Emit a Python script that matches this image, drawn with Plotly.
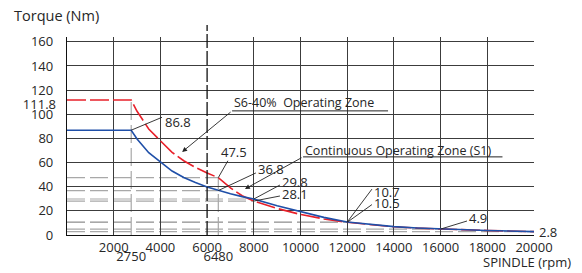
import plotly.graph_objects as go

# ---------------- data ----------------
speed_s6 = [0, 2750, 3000, 3500, 4000, 4500, 5000, 5500, 6000, 6480, 7000, 7500, 8000,
            9000, 10000, 11000, 12000, 13000, 14000, 15000, 16000, 18000, 20000]
torque_s6 = [111.8, 111.8, 102.5, 87.8, 78.0, 68.5, 61.5, 56.0, 51.3, 47.5, 39.0, 32.5, 28.1,
             22.0, 17.0, 13.3, 10.5, 8.4, 6.8, 5.7, 4.9, 3.7, 2.8]
speed_s1 = [0, 2750, 3000, 3500, 4000, 4500, 5000, 5500, 6000, 6480, 7000, 7500, 8000,
            9000, 10000, 11000, 12000, 13000, 14000, 15000, 16000, 18000, 20000]
torque_s1 = [86.8, 86.8, 79.6, 68.2, 60.5, 53.0, 47.7, 43.4, 39.8, 36.8, 34.1, 31.8, 29.8,
             24.2, 19.3, 14.6, 10.7, 8.6, 6.9, 5.8, 4.9, 3.7, 2.8]

x_ticks = [2000, 4000, 6000, 8000, 10000, 12000, 14000, 16000, 18000, 20000]
x_grid = [2000, 4000, 8000, 10000, 12000, 14000, 16000, 18000, 20000]
x_extra_ticks = [2750, 6480]
y_ticks = [0, 20, 40, 60, 80, 100, 120, 140, 160]
y_extra_ticks = [111.8]

guide_h_levels = [47.5, 36.8, 29.8, 28.1, 10.7, 10.5, 4.9, 2.8]
guide_h_ends = [6480, 6480, 8000, 8000, 12000, 12000, 16000, 20000]
guide_v_speeds = [2750, 6480]
guide_v_tops = [111.8, 47.5]
divider_speed = 6000

# value labels: (text, point x, point y, text-left x, text-center y, leader-start x, leader-start y)
value_labels = [
    ("86.8", 2750, 86.8, 4110, 93.7, 4070, 97.5),
    ("47.5", 6480, 47.5, 6500, 68.8, 6890, 61.5),
    ("36.8", 6480, 36.8, 8090, 54.7, 8090, 51.4),
    ("29.8", 8000, 29.8, 9120, 43.9, 9120, 41.4),
    ("28.1", 8000, 28.1, 9120, 34.0, 9120, 32.3),
    ("10.7", 12000, 10.7, 13060, 35.6, 13060, 38.0),
    ("10.5", 12000, 10.5, 13060, 26.5, 13060, 25.2),
    ("4.9", 16000, 4.9, 17130, 14.1, 17130, 11.6),
]
end_label = ("2.8", 20000, 2.8)

# zone labels: (text, text-left x, text center y, underline y, underline end x, arrow tip x, arrow tip y)
zone_labels = [
    ("S6-40%  Operating Zone", 7070, 109.4, 102.8, 13750, 4930, 68.8),
    ("Continuous Operating Zone (S1)", 10110, 69.6, 64.7, 18650, 7620, 38.1),
]

FONT = "Open Sans, Noto Sans, sans-serif"
TXT = "#262626"
GRID = "#3c3c3c"
GUIDE = "#a8a8a8"
XR = [0, 20000]
YR = [0, 164]

fig = go.Figure()

fig.add_trace(go.Scatter(x=speed_s6, y=torque_s6, mode="lines",
                         line=dict(color="#e8202a", width=1.6, dash="19px,4px"),
                         showlegend=False, hoverinfo="skip"))
fig.add_trace(go.Scatter(x=speed_s1, y=torque_s1, mode="lines",
                         line=dict(color="#1f4fa8", width=1.6),
                         showlegend=False, hoverinfo="skip"))
# placeholder traces for overlay axes
fig.add_trace(go.Scatter(x=[None], y=[None], xaxis="x2", yaxis="y", showlegend=False))
fig.add_trace(go.Scatter(x=[None], y=[None], xaxis="x3", yaxis="y", showlegend=False))
fig.add_trace(go.Scatter(x=[None], y=[None], xaxis="x", yaxis="y2", showlegend=False))

shapes = []
for lvl, end in zip(guide_h_levels, guide_h_ends):
    shapes.append(dict(type="line", xref="x", yref="y", x0=0, x1=end, y0=lvl, y1=lvl,
                       line=dict(color=GUIDE, width=1.2, dash="18px,5px"), layer="below"))
for sp, top in zip(guide_v_speeds, guide_v_tops):
    shapes.append(dict(type="line", xref="x", yref="y", x0=sp, x1=sp, y0=0, y1=top,
                       line=dict(color=GUIDE, width=1.2, dash="18px,5px"), layer="below"))
shapes.append(dict(type="line", xref="x", yref="paper", x0=divider_speed, x1=divider_speed,
                   y0=0, y1=1.06, line=dict(color="#111111", width=1.3, dash="14px,3px")))

annotations = []
for text, px, py, tx, ty, lx, ly in value_labels:
    shapes.append(dict(type="line", xref="x", yref="y", x0=px, y0=py, x1=lx, y1=ly,
                       line=dict(color="#222222", width=0.9)))
    annotations.append(dict(text=text, x=tx, y=ty, xref="x", yref="y", xanchor="left",
                            yanchor="middle", showarrow=False,
                            font=dict(family=FONT, size=13, color=TXT)))
annotations.append(dict(text=end_label[0], x=end_label[1], y=end_label[2], xref="x", yref="y",
                        xanchor="left", yanchor="middle", xshift=3, showarrow=False,
                        font=dict(family=FONT, size=13, color=TXT)))

for text, tx, ty, uy, ux, ax_tip, ay_tip in zone_labels:
    annotations.append(dict(text=text, x=tx, y=ty, xref="x", yref="y", xanchor="left",
                            yanchor="middle", showarrow=False,
                            font=dict(family=FONT, size=12.5, color=TXT)))
    shapes.append(dict(type="line", xref="x", yref="y", x0=tx, x1=ux, y0=uy, y1=uy,
                       line=dict(color="#222222", width=1)))
    annotations.append(dict(text="", x=ax_tip, y=ay_tip, xref="x", yref="y",
                            ax=tx, ay=uy, axref="x", ayref="y", showarrow=True,
                            arrowhead=2, arrowsize=1.1, arrowwidth=0.9, arrowcolor="#222222",
                            standoff=0, startstandoff=0))

annotations.append(dict(text="Torque (Nm)", x=-0.118, y=1.111, xref="paper", yref="paper",
                        xanchor="left", yanchor="middle", showarrow=False,
                        font=dict(family=FONT, size=14.5, color=TXT)))
annotations.append(dict(text="SPINDLE (rpm)", x=1.0835, y=-0.136, xref="paper", yref="paper",
                        xanchor="right", yanchor="middle", showarrow=False,
                        font=dict(family=FONT, size=13, color=TXT)))

tickfont = dict(family=FONT, size=13, color=TXT)

# page body has an 8px margin, so the figure is sized to fill the rest of the window
fig.update_layout(
    width=574, height=265,
    margin=dict(l=59, r=48, t=29, b=38, autoexpand=False),
    paper_bgcolor="white", plot_bgcolor="white",
    xaxis=dict(range=XR, tickmode="array", tickvals=x_ticks, ticktext=[str(v) for v in x_ticks],
               showgrid=False, zeroline=False, showline=True, linecolor="#111111", linewidth=1.3,
               ticks="", tickfont=tickfont, ticklabelstandoff=0, automargin=False),
    xaxis2=dict(range=XR, overlaying="x", anchor="y", side="bottom", tickmode="array",
                tickvals=x_extra_ticks, ticktext=[str(v) for v in x_extra_ticks],
                showgrid=False, zeroline=False, showline=False, ticks="",
                tickfont=tickfont, ticklabelstandoff=12, automargin=False),
    xaxis3=dict(range=XR, overlaying="x", anchor="y", side="bottom", tickmode="array",
                tickvals=x_grid, showticklabels=False, showgrid=True, gridcolor=GRID,
                gridwidth=1.2, zeroline=False, showline=False, ticks="", automargin=False),
    yaxis=dict(range=YR, tickmode="array", tickvals=y_ticks, ticktext=[str(v) for v in y_ticks],
               showgrid=True, gridcolor=GRID, gridwidth=1.2, zeroline=False, showline=True,
               linecolor="#111111", linewidth=1.3, ticks="", tickfont=tickfont,
               ticklabelstandoff=10, automargin=False),
    yaxis2=dict(range=YR, overlaying="y", anchor="x", side="left", tickmode="array",
                tickvals=y_extra_ticks, ticktext=[str(v) for v in y_extra_ticks],
                showgrid=False, zeroline=False, showline=False, ticks="",
                tickfont=tickfont, ticklabelstandoff=10, ticklabelshift=4, automargin=False),
    shapes=shapes,
    annotations=annotations,
)

fig.write_html("out.html")
